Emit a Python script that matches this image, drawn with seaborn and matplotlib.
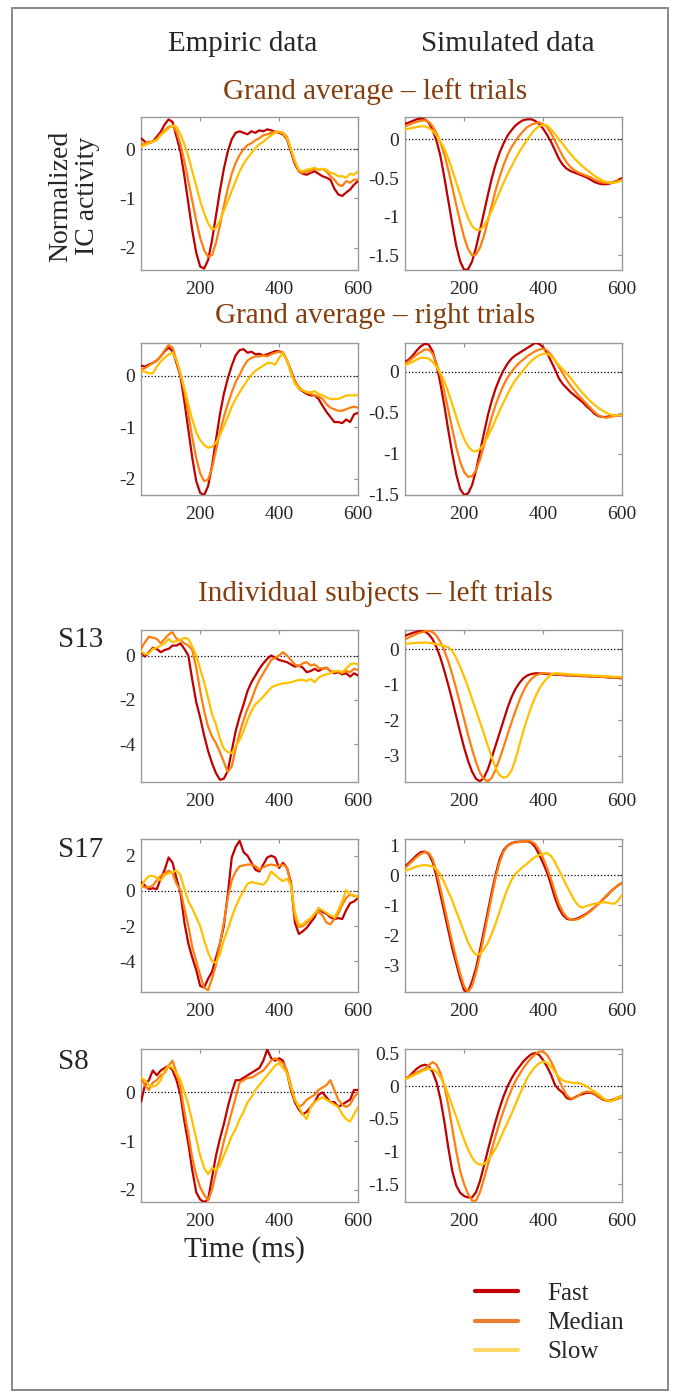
import numpy as np
import pandas as pd
import matplotlib
matplotlib.use("Agg")
import matplotlib.pyplot as plt
from matplotlib.lines import Line2D
from matplotlib.patches import Rectangle
import seaborn as sns

# -----------------------------
# Data (one sample per 10 ms)
# -----------------------------
time_ms = list(range(50, 601, 10))

# Grand average - left trials, empiric
ga_left_emp_fast = [0.22, 0.15, 0.12, 0.15, 0.25, 0.35, 0.50, 0.60, 0.55, 0.25,
                    -0.05, -0.55, -1.10, -1.65, -2.10, -2.38, -2.42, -2.25, -1.85, -1.35,
                    -0.85, -0.40, -0.05, 0.20, 0.33, 0.36, 0.33, 0.30, 0.36, 0.33,
                    0.38, 0.36, 0.40, 0.38, 0.35, 0.33, 0.30, 0.20, -0.05, -0.30,
                    -0.45, -0.50, -0.52, -0.48, -0.45, -0.50, -0.55, -0.58, -0.62, -0.80,
                    -0.92, -0.95, -0.88, -0.82, -0.72, -0.65]
ga_left_emp_med = [0.08, 0.12, 0.15, 0.15, 0.20, 0.30, 0.38, 0.45, 0.47, 0.35,
                   0.10, -0.25, -0.65, -1.05, -1.45, -1.80, -2.05, -2.18, -2.15, -1.90,
                   -1.55, -1.15, -0.80, -0.50, -0.28, -0.12, 0.00, 0.08, 0.12, 0.18,
                   0.22, 0.28, 0.30, 0.33, 0.35, 0.35, 0.33, 0.25, 0.00, -0.25,
                   -0.45, -0.48, -0.45, -0.45, -0.40, -0.42, -0.40, -0.45, -0.55, -0.62,
                   -0.72, -0.75, -0.65, -0.68, -0.62, -0.62]
ga_left_emp_slow = [0.05, 0.08, 0.12, 0.15, 0.18, 0.28, 0.35, 0.42, 0.48, 0.45,
                    0.30, 0.10, -0.15, -0.45, -0.75, -1.05, -1.30, -1.50, -1.63, -1.60,
                    -1.45, -1.25, -1.05, -0.85, -0.65, -0.45, -0.30, -0.18, -0.08, 0.02,
                    0.10, 0.15, 0.22, 0.28, 0.33, 0.35, 0.32, 0.22, 0.00, -0.25,
                    -0.42, -0.45, -0.42, -0.40, -0.38, -0.42, -0.40, -0.42, -0.48, -0.50,
                    -0.55, -0.55, -0.58, -0.50, -0.52, -0.45]

# Grand average - left trials, simulated
ga_left_sim_fast = [0.20, 0.22, 0.24, 0.26, 0.27, 0.26, 0.22, 0.12, -0.02, -0.22,
                    -0.50, -0.80, -1.10, -1.38, -1.58, -1.69, -1.68, -1.58, -1.40, -1.18,
                    -0.95, -0.72, -0.50, -0.32, -0.17, -0.05, 0.05, 0.12, 0.18, 0.22,
                    0.25, 0.26, 0.26, 0.24, 0.20, 0.14, 0.06, -0.03, -0.14, -0.25,
                    -0.33, -0.38, -0.41, -0.43, -0.45, -0.47, -0.49, -0.52, -0.55, -0.57,
                    -0.58, -0.58, -0.57, -0.55, -0.53, -0.50]
ga_left_sim_med = [0.17, 0.19, 0.21, 0.23, 0.24, 0.25, 0.23, 0.17, 0.08, -0.04,
                   -0.20, -0.40, -0.62, -0.85, -1.07, -1.27, -1.42, -1.50, -1.49, -1.40,
                   -1.25, -1.05, -0.85, -0.65, -0.48, -0.33, -0.20, -0.10, -0.02, 0.05,
                   0.11, 0.16, 0.19, 0.21, 0.22, 0.20, 0.16, 0.08, -0.02, -0.12,
                   -0.22, -0.30, -0.36, -0.40, -0.43, -0.45, -0.47, -0.49, -0.52, -0.54,
                   -0.56, -0.56, -0.56, -0.55, -0.54, -0.53]
ga_left_sim_slow = [0.13, 0.14, 0.15, 0.16, 0.17, 0.17, 0.15, 0.11, 0.05, -0.03,
                    -0.12, -0.25, -0.40, -0.56, -0.72, -0.88, -1.02, -1.12, -1.17, -1.17,
                    -1.12, -1.03, -0.92, -0.80, -0.68, -0.56, -0.45, -0.35, -0.25, -0.16,
                    -0.08, 0.00, 0.07, 0.13, 0.17, 0.19, 0.18, 0.13, 0.07, 0.00,
                    -0.06, -0.13, -0.19, -0.25, -0.30, -0.35, -0.39, -0.43, -0.47, -0.50,
                    -0.53, -0.55, -0.56, -0.56, -0.55, -0.53]

# Grand average - right trials, empiric
ga_right_emp_fast = [0.20, 0.18, 0.22, 0.25, 0.30, 0.38, 0.48, 0.55, 0.48, 0.25,
                     0.00, -0.50, -1.05, -1.60, -2.05, -2.28, -2.32, -2.15, -1.75, -1.25,
                     -0.75, -0.35, -0.05, 0.20, 0.40, 0.50, 0.52, 0.45, 0.47, 0.42,
                     0.43, 0.40, 0.42, 0.45, 0.48, 0.48, 0.45, 0.30, 0.10, -0.10,
                     -0.25, -0.30, -0.35, -0.38, -0.38, -0.45, -0.58, -0.70, -0.80, -0.90,
                     -0.90, -0.92, -0.85, -0.90, -0.75, -0.72]
ga_right_emp_med = [0.12, 0.15, 0.20, 0.25, 0.30, 0.38, 0.50, 0.60, 0.55, 0.30,
                    0.05, -0.30, -0.75, -1.20, -1.60, -1.90, -2.05, -2.02, -1.80, -1.45,
                    -1.10, -0.80, -0.55, -0.32, -0.12, 0.02, 0.18, 0.30, 0.35, 0.38,
                    0.38, 0.40, 0.38, 0.42, 0.45, 0.47, 0.45, 0.30, 0.10, -0.10,
                    -0.22, -0.28, -0.32, -0.35, -0.38, -0.40, -0.45, -0.55, -0.62, -0.65,
                    -0.68, -0.68, -0.65, -0.62, -0.60, -0.62]
ga_right_emp_slow = [0.10, 0.08, 0.05, 0.05, 0.18, 0.28, 0.35, 0.42, 0.45, 0.30,
                     0.05, -0.25, -0.55, -0.85, -1.10, -1.25, -1.35, -1.40, -1.38, -1.30,
                     -1.15, -0.98, -0.80, -0.60, -0.45, -0.32, -0.20, -0.08, 0.02, 0.10,
                     0.15, 0.20, 0.25, 0.25, 0.22, 0.35, 0.45, 0.30, 0.05, -0.15,
                     -0.25, -0.28, -0.32, -0.32, -0.30, -0.35, -0.38, -0.42, -0.45, -0.45,
                     -0.45, -0.42, -0.38, -0.38, -0.38, -0.38]

# Grand average - right trials, simulated
ga_right_sim_fast = [0.12, 0.15, 0.20, 0.26, 0.31, 0.34, 0.33, 0.25, 0.08, -0.15,
                     -0.42, -0.72, -1.00, -1.25, -1.43, -1.50, -1.48, -1.38, -1.20, -0.98,
                     -0.75, -0.53, -0.35, -0.20, -0.08, 0.02, 0.10, 0.16, 0.20, 0.23,
                     0.26, 0.29, 0.32, 0.35, 0.34, 0.30, 0.23, 0.13, 0.03, -0.08,
                     -0.15, -0.20, -0.25, -0.29, -0.33, -0.37, -0.42, -0.46, -0.51, -0.54,
                     -0.55, -0.55, -0.54, -0.53, -0.53, -0.53]
ga_right_sim_med = [0.10, 0.13, 0.17, 0.21, 0.24, 0.27, 0.27, 0.22, 0.10, -0.05,
                    -0.25, -0.47, -0.70, -0.92, -1.10, -1.22, -1.28, -1.27, -1.20, -1.07,
                    -0.90, -0.72, -0.55, -0.40, -0.27, -0.16, -0.07, 0.00, 0.06, 0.11,
                    0.15, 0.19, 0.22, 0.25, 0.27, 0.28, 0.26, 0.21, 0.14, 0.06,
                    -0.02, -0.10, -0.17, -0.23, -0.29, -0.34, -0.39, -0.44, -0.49, -0.53,
                    -0.55, -0.56, -0.55, -0.54, -0.53, -0.53]
ga_right_sim_slow = [0.08, 0.10, 0.12, 0.15, 0.17, 0.17, 0.16, 0.12, 0.06, -0.02,
                     -0.12, -0.25, -0.40, -0.55, -0.70, -0.82, -0.91, -0.96, -0.97, -0.94,
                     -0.88, -0.79, -0.69, -0.58, -0.47, -0.37, -0.27, -0.18, -0.10, -0.04,
                     0.02, 0.08, 0.13, 0.17, 0.20, 0.22, 0.22, 0.19, 0.14, 0.08,
                     0.03, -0.02, -0.08, -0.14, -0.20, -0.26, -0.31, -0.36, -0.40, -0.44,
                     -0.47, -0.50, -0.52, -0.53, -0.53, -0.52]

# Subject S13
s13_emp_fast = [0.15, -0.05, 0.15, 0.35, 0.30, 0.15, 0.25, 0.30, 0.45, 0.45,
                0.55, 0.30, 0.00, -1.10, -2.10, -2.80, -3.60, -4.30, -4.85, -5.30,
                -5.60, -5.55, -5.20, -4.30, -3.40, -2.75, -2.20, -1.60, -1.20, -0.90,
                -0.60, -0.35, -0.15, 0.00, -0.10, -0.20, -0.25, -0.30, -0.40, -0.50,
                -0.45, -0.55, -0.75, -0.70, -0.60, -0.70, -0.60, -0.55, -0.70, -0.80,
                -0.75, -0.85, -0.80, -0.95, -0.80, -0.90]
s13_emp_med = [0.30, 0.60, 0.85, 0.80, 0.75, 0.55, 0.75, 0.95, 1.05, 0.75,
               0.70, 0.55, 0.45, 0.25, -0.55, -1.60, -2.50, -3.20, -3.65, -3.95,
               -4.35, -4.80, -5.25, -5.00, -4.20, -3.50, -2.90, -2.40, -2.00, -1.50,
               -1.10, -0.80, -0.50, -0.20, -0.10, 0.00, 0.15, 0.00, -0.20, -0.40,
               -0.50, -0.35, -0.30, -0.45, -0.40, -0.55, -0.60, -0.55, -0.70, -0.75,
               -0.70, -0.80, -0.70, -0.75, -0.60, -0.65]
s13_emp_slow = [0.20, 0.05, 0.10, 0.30, 0.35, 0.45, 0.55, 0.75, 0.60, 0.65,
                0.70, 0.80, 0.75, 0.40, 0.00, -0.60, -1.20, -1.90, -2.65, -3.10,
                -3.75, -4.20, -4.35, -4.40, -4.10, -3.80, -3.40, -2.90, -2.50, -2.20,
                -2.05, -1.85, -1.65, -1.45, -1.35, -1.30, -1.25, -1.25, -1.20, -1.15,
                -1.10, -1.10, -1.15, -1.05, -1.20, -1.00, -0.90, -0.85, -0.80, -0.70,
                -0.70, -0.75, -0.60, -0.40, -0.35, -0.40]
s13_sim_fast = [0.38, 0.42, 0.46, 0.49, 0.51, 0.50, 0.42, 0.28, 0.05, -0.25,
                -0.62, -1.02, -1.45, -1.90, -2.35, -2.78, -3.15, -3.45, -3.65, -3.72,
                -3.62, -3.38, -3.05, -2.70, -2.35, -2.00, -1.65, -1.35, -1.12, -0.95,
                -0.82, -0.74, -0.70, -0.68, -0.68, -0.69, -0.70, -0.71, -0.72, -0.72,
                -0.73, -0.74, -0.74, -0.75, -0.75, -0.76, -0.76, -0.77, -0.77, -0.78,
                -0.78, -0.79, -0.80, -0.80, -0.81, -0.82]
s13_sim_med = [0.28, 0.33, 0.38, 0.43, 0.47, 0.50, 0.52, 0.48, 0.38, 0.20,
               -0.05, -0.35, -0.72, -1.12, -1.55, -1.98, -2.42, -2.82, -3.18, -3.48,
               -3.66, -3.72, -3.62, -3.38, -3.08, -2.75, -2.40, -2.06, -1.74, -1.44,
               -1.18, -0.98, -0.84, -0.75, -0.70, -0.68, -0.68, -0.69, -0.70, -0.71,
               -0.72, -0.72, -0.73, -0.74, -0.74, -0.75, -0.75, -0.76, -0.76, -0.77,
               -0.78, -0.78, -0.79, -0.79, -0.80, -0.80]
s13_sim_slow = [0.15, 0.16, 0.17, 0.18, 0.18, 0.19, 0.18, 0.16, 0.14, 0.12,
                0.09, 0.05, -0.05, -0.25, -0.50, -0.78, -1.08, -1.40, -1.72, -2.05,
                -2.38, -2.72, -3.05, -3.35, -3.55, -3.62, -3.58, -3.42, -3.10, -2.70,
                -2.30, -1.95, -1.62, -1.35, -1.12, -0.95, -0.82, -0.72, -0.68, -0.68,
                -0.69, -0.70, -0.71, -0.72, -0.72, -0.73, -0.73, -0.74, -0.75, -0.75,
                -0.76, -0.76, -0.77, -0.78, -0.78, -0.78]

# Subject S17
s17_emp_fast = [0.50, 0.30, 0.10, 0.15, 0.10, 0.70, 1.20, 1.90, 1.60, 0.70,
                -0.10, -1.80, -3.00, -3.80, -4.50, -5.40, -5.50, -5.00, -4.60, -3.80,
                -3.00, -2.00, -0.20, 1.90, 2.50, 2.85, 2.20, 2.00, 1.60, 1.20,
                1.10, 1.50, 1.90, 2.00, 1.90, 1.30, 1.60, 1.30, 0.50, -1.80,
                -2.45, -2.30, -2.10, -1.80, -1.50, -1.00, -1.20, -1.30, -1.50, -1.60,
                -1.55, -1.60, -1.10, -0.70, -0.60, -0.40]
s17_emp_med = [0.30, 0.20, 0.20, 0.30, 0.60, 0.85, 1.00, 1.15, 1.00, 0.40,
               0.05, -1.00, -2.00, -3.20, -4.00, -4.80, -5.50, -5.65, -5.00, -4.20,
               -3.00, -1.80, -0.40, 0.60, 1.10, 1.40, 1.45, 1.50, 1.50, 1.40,
               1.20, 1.35, 1.45, 1.50, 1.45, 1.40, 1.50, 1.30, 0.40, -1.50,
               -2.05, -2.00, -1.80, -1.60, -1.30, -1.20, -1.40, -1.80, -1.90, -1.60,
               -1.30, -0.80, -0.40, -0.20, -0.30, -0.30]
s17_emp_slow = [0.20, 0.60, 0.85, 0.85, 0.75, 0.60, 0.90, 1.00, 1.05, 1.15,
                0.90, 0.10, -0.60, -1.00, -1.50, -2.00, -2.80, -3.50, -4.00, -4.10,
                -3.60, -2.80, -2.20, -1.50, -0.90, -0.40, 0.00, 0.40, 0.50, 0.45,
                0.40, 0.35, 0.60, 1.10, 0.90, 0.70, 0.55, 0.70, 0.30, -1.20,
                -1.95, -1.90, -1.70, -1.55, -1.30, -1.00, -1.10, -1.25, -1.40, -1.50,
                -1.10, -0.60, 0.05, -0.20, -0.25, -0.35]
s17_sim_fast = [0.30, 0.42, 0.55, 0.68, 0.78, 0.80, 0.72, 0.45, -0.05, -0.65,
                -1.25, -1.85, -2.45, -2.95, -3.45, -3.85, -3.88, -3.55, -3.10, -2.50,
                -1.85, -1.20, -0.55, 0.05, 0.55, 0.85, 1.00, 1.08, 1.12, 1.13,
                1.14, 1.14, 1.10, 0.95, 0.70, 0.42, 0.10, -0.30, -0.75, -1.10,
                -1.32, -1.45, -1.48, -1.47, -1.42, -1.35, -1.28, -1.18, -1.07, -0.95,
                -0.82, -0.70, -0.56, -0.44, -0.33, -0.25]
s17_sim_med = [0.25, 0.37, 0.50, 0.62, 0.72, 0.78, 0.76, 0.55, 0.12, -0.45,
               -1.05, -1.65, -2.25, -2.80, -3.30, -3.72, -3.90, -3.70, -3.25, -2.68,
               -2.02, -1.35, -0.68, -0.05, 0.45, 0.80, 0.98, 1.06, 1.10, 1.12,
               1.14, 1.15, 1.14, 1.05, 0.85, 0.58, 0.25, -0.12, -0.55, -0.95,
               -1.22, -1.40, -1.48, -1.49, -1.45, -1.38, -1.30, -1.20, -1.08, -0.95,
               -0.82, -0.68, -0.55, -0.43, -0.33, -0.26]
s17_sim_slow = [0.15, 0.20, 0.25, 0.30, 0.33, 0.35, 0.33, 0.30, 0.20, 0.02,
                -0.25, -0.55, -0.85, -1.20, -1.55, -1.90, -2.25, -2.50, -2.65, -2.62,
                -2.48, -2.25, -1.95, -1.60, -1.20, -0.80, -0.45, -0.15, 0.05, 0.18,
                0.30, 0.40, 0.52, 0.62, 0.68, 0.72, 0.75, 0.65, 0.45, 0.18,
                -0.08, -0.35, -0.60, -0.85, -1.02, -1.08, -1.02, -0.98, -0.95, -0.92,
                -0.90, -0.90, -0.93, -0.95, -0.85, -0.65]

# Subject S8
s8_emp_fast = [-0.20, 0.15, 0.25, 0.45, 0.35, 0.45, 0.50, 0.55, 0.45, 0.25,
               -0.05, -0.60, -1.05, -1.60, -2.05, -2.20, -2.25, -2.20, -1.75, -1.30,
               -0.95, -0.65, -0.30, 0.00, 0.25, 0.25, 0.30, 0.35, 0.40, 0.45,
               0.50, 0.65, 0.88, 0.70, 0.65, 0.70, 0.65, 0.40, 0.05, -0.20,
               -0.35, -0.45, -0.40, -0.30, -0.20, -0.05, 0.00, -0.10, -0.20, -0.20,
               -0.30, -0.25, -0.20, -0.15, 0.05, 0.05]
s8_emp_med = [0.30, 0.15, 0.05, 0.20, 0.25, 0.35, 0.40, 0.55, 0.65, 0.40,
              0.10, -0.40, -0.85, -1.35, -1.70, -1.95, -2.10, -2.22, -2.00, -1.65,
              -1.35, -1.00, -0.70, -0.40, -0.10, 0.20, 0.25, 0.30, 0.30, 0.35,
              0.40, 0.45, 0.55, 0.65, 0.70, 0.65, 0.60, 0.45, 0.15, -0.15,
              -0.30, -0.25, -0.15, -0.10, -0.05, 0.05, 0.10, 0.15, 0.25, 0.05,
              -0.15, -0.25, -0.30, -0.25, -0.10, 0.00]
s8_emp_slow = [0.30, 0.25, 0.15, 0.12, 0.15, 0.25, 0.45, 0.55, 0.50, 0.40,
               0.25, 0.00, -0.25, -0.60, -0.95, -1.30, -1.55, -1.68, -1.55, -1.60,
               -1.50, -1.30, -1.10, -0.90, -0.75, -0.55, -0.40, -0.20, -0.10, 0.05,
               0.15, 0.25, 0.35, 0.45, 0.55, 0.60, 0.50, 0.40, 0.10, -0.15,
               -0.30, -0.45, -0.55, -0.30, -0.20, -0.15, -0.10, -0.15, -0.20, -0.25,
               -0.30, -0.45, -0.55, -0.60, -0.45, -0.30]
s8_sim_fast = [0.10, 0.15, 0.21, 0.27, 0.31, 0.33, 0.31, 0.22, 0.06, -0.20,
               -0.55, -0.95, -1.30, -1.52, -1.63, -1.68, -1.70, -1.70, -1.62, -1.45,
               -1.22, -0.98, -0.75, -0.53, -0.33, -0.15, 0.00, 0.12, 0.22, 0.30,
               0.38, 0.44, 0.49, 0.51, 0.48, 0.40, 0.30, 0.18, 0.02, -0.05,
               -0.10, -0.18, -0.20, -0.17, -0.14, -0.12, -0.10, -0.10, -0.12, -0.16,
               -0.20, -0.22, -0.22, -0.20, -0.17, -0.15]
s8_sim_med = [0.12, 0.15, 0.18, 0.21, 0.24, 0.27, 0.32, 0.37, 0.33, 0.20,
              0.00, -0.30, -0.65, -1.00, -1.30, -1.50, -1.65, -1.75, -1.75, -1.62,
              -1.42, -1.20, -0.97, -0.75, -0.55, -0.37, -0.20, -0.05, 0.08, 0.18,
              0.28, 0.36, 0.43, 0.49, 0.53, 0.53, 0.48, 0.38, 0.25, 0.10,
              -0.03, -0.14, -0.19, -0.18, -0.14, -0.10, -0.08, -0.09, -0.11, -0.15,
              -0.19, -0.22, -0.23, -0.21, -0.19, -0.17]
s8_sim_slow = [0.10, 0.13, 0.16, 0.19, 0.22, 0.25, 0.27, 0.26, 0.22, 0.14,
               0.02, -0.13, -0.30, -0.47, -0.65, -0.82, -0.97, -1.09, -1.17, -1.20,
               -1.19, -1.13, -1.05, -0.95, -0.82, -0.68, -0.55, -0.42, -0.28, -0.13,
               0.00, 0.13, 0.22, 0.30, 0.35, 0.38, 0.36, 0.30, 0.22, 0.14,
               0.09, 0.07, 0.06, 0.05, 0.05, 0.03, 0.00, -0.04, -0.08, -0.12,
               -0.17, -0.21, -0.23, -0.21, -0.17, -0.15]

speed_labels = ["Fast", "Median", "Slow"]
line_colors = ["#C00000", "#FF7F0E", "#FFC000"]
legend_colors = ["#C00000", "#ED7D31", "#FFD966"]

# -----------------------------
# Style
# -----------------------------
sns.set_style("white")
plt.rcParams["font.family"] = ["Liberation Serif", "DejaVu Serif"]
plt.rcParams["axes.unicode_minus"] = False

W, H = 675, 1397
fig = plt.figure(figsize=(W / 100, H / 100), dpi=100)

def px_axes(x0, y0, x1, y1):
    return fig.add_axes([x0 / W, 1 - y1 / H, (x1 - x0) / W, (y1 - y0) / H])

left_x = (141, 358)
right_x = (405, 622)
rows_y = [(117, 270), (343, 495), (630, 782), (839, 992), (1049, 1202)]

panels = [
    (0, left_x, (ga_left_emp_fast, ga_left_emp_med, ga_left_emp_slow), (-2.45, 0.65), [-2, -1, 0]),
    (0, right_x, (ga_left_sim_fast, ga_left_sim_med, ga_left_sim_slow), (-1.69, 0.29), [-1.5, -1, -0.5, 0]),
    (1, left_x, (ga_right_emp_fast, ga_right_emp_med, ga_right_emp_slow), (-2.32, 0.64), [-2, -1, 0]),
    (1, right_x, (ga_right_sim_fast, ga_right_sim_med, ga_right_sim_slow), (-1.5, 0.35), [-1.5, -1, -0.5, 0]),
    (2, left_x, (s13_emp_fast, s13_emp_med, s13_emp_slow), (-5.7, 1.15), [-4, -2, 0]),
    (2, right_x, (s13_sim_fast, s13_sim_med, s13_sim_slow), (-3.74, 0.54), [-3, -2, -1, 0]),
    (3, left_x, (s17_emp_fast, s17_emp_med, s17_emp_slow), (-5.75, 2.95), [-4, -2, 0, 2]),
    (3, right_x, (s17_sim_fast, s17_sim_med, s17_sim_slow), (-3.9, 1.22), [-3, -2, -1, 0, 1]),
    (4, left_x, (s8_emp_fast, s8_emp_med, s8_emp_slow), (-2.25, 0.89), [-2, -1, 0]),
    (4, right_x, (s8_sim_fast, s8_sim_med, s8_sim_slow), (-1.77, 0.57), [-1.5, -1, -0.5, 0, 0.5]),
]

def fmt_tick(v):
    return "%g" % v

for row, xs, series, ylim, yticks in panels:
    ax = px_axes(xs[0], rows_y[row][0], xs[1], rows_y[row][1])
    df = pd.DataFrame({
        "time": time_ms * 3,
        "value": list(series[0]) + list(series[1]) + list(series[2]),
        "speed": sum([[lab] * len(time_ms) for lab in speed_labels], []),
    })
    ax.axhline(0, color="black", ls=":", lw=0.9, zorder=1)
    sns.lineplot(data=df, x="time", y="value", hue="speed", hue_order=speed_labels,
                 palette=line_colors, estimator=None, sort=False, legend=False,
                 linewidth=1.6, ax=ax, zorder=3)
    ax.set_xlim(50, 600)
    ax.set_ylim(*ylim)
    ax.set_xticks([200, 400, 600])
    ax.set_yticks(yticks)
    ax.set_yticklabels([fmt_tick(v) for v in yticks])
    ax.set_xlabel("")
    ax.set_ylabel("")
    ax.tick_params(direction="in", length=3, width=0.8, color="#8c8c8c",
                   top=True, right=True, labelsize=14, labelcolor="#262626")
    ax.tick_params(axis="x", pad=8)
    ax.tick_params(axis="y", pad=4)
    for sp in ax.spines.values():
        sp.set_color("#9a9a9a")
        sp.set_linewidth(1.0)

# -----------------------------
# Texts
# -----------------------------
brown = "#843C0C"
def ftext(x, y, s, **kw):
    fig.text(x / W, 1 - y / H, s, **kw)

ftext(243, 44, "Empiric data", fontsize=21, ha="center", va="center")
ftext(508, 44, "Simulated data", fontsize=21, ha="center", va="center")
ftext(375, 92, "Grand average \u2013 left trials", fontsize=21, color=brown, ha="center", va="center")
ftext(375, 316, "Grand average \u2013 right trials", fontsize=21, color=brown, ha="center", va="center")
ftext(375, 594, "Individual subjects \u2013 left trials", fontsize=21, color=brown, ha="center", va="center")
ftext(74, 196, "Normalized\nIC activity", fontsize=20, rotation=90, ha="center", va="center",
      multialignment="center", linespacing=1.1)
ftext(58, 640, "S13", fontsize=21, ha="left", va="center")
ftext(58, 850, "S17", fontsize=21, ha="left", va="center")
ftext(58, 1062, "S8", fontsize=21, ha="left", va="center")
ftext(244, 1250, "Time (ms)", fontsize=21, ha="center", va="center")

# legend
handles = [Line2D([0], [0], color=c, lw=3) for c in legend_colors]
fig.legend(handles, speed_labels, loc="center left",
           bbox_to_anchor=(475 / W, 1 - 1323 / H), frameon=False,
           fontsize=18, handlelength=1.7, handletextpad=1.2,
           labelspacing=0.27, borderpad=0, borderaxespad=0)

# outer frame
fig.add_artist(Rectangle((12 / W, 1 - 1390 / H), (668 - 12) / W, (1390 - 8) / H,
                         transform=fig.transFigure, fill=False,
                         edgecolor="#7f7f7f", linewidth=1.3))

fig.savefig("out.png", dpi=100)
